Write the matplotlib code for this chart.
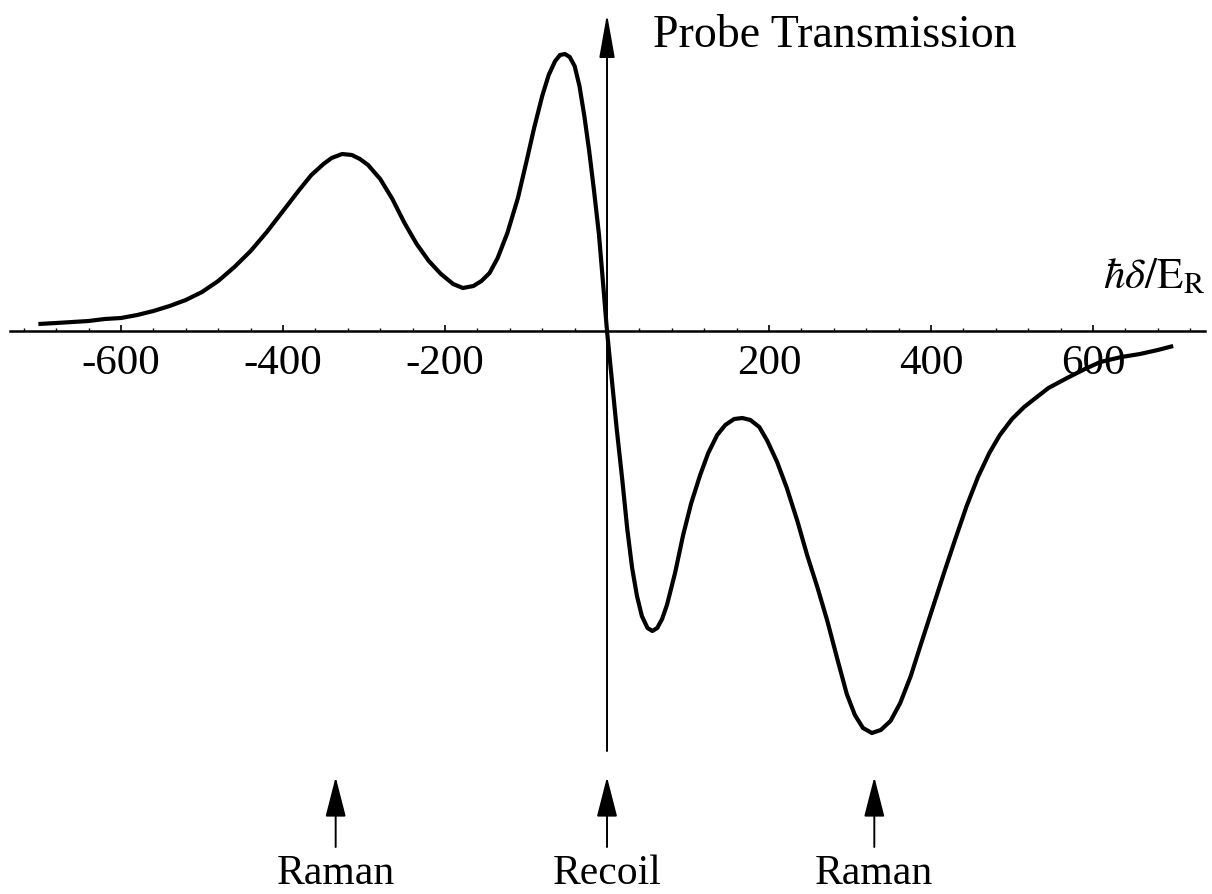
import matplotlib

matplotlib.use("Agg")
import matplotlib.pyplot as plt

# probe transmission vs. detuning (in units of the recoil energy), arbitrary y units
detuning = [
    -702, -680, -660, -640, -620, -600, -580, -560, -540, -520, -500, -480,
    -460, -440, -420, -400, -380, -365, -350, -340, -327, -315, -305, -295,
    -280, -265, -250, -235, -220, -205, -190, -178, -165, -155, -145, -135,
    -123, -110, -99, -90, -80, -72, -64, -58, -52, -46, -40, -34, -28, -22,
    -16, -10, -5, 0, 6, 12, 19, 25, 31, 37, 43, 50, 56, 62, 68, 74, 84, 94,
    104, 115, 125, 136, 146, 157, 167, 177, 188, 198, 210, 222, 235, 247,
    260, 272, 284, 296, 306, 316, 327, 338, 350, 362, 375, 388, 402, 416,
    430, 444, 458, 472, 485, 500, 515, 526, 545, 568, 590, 609, 635, 658,
    680, 699,
]
transmission = [
    0.07, 0.08, 0.09, 0.10, 0.12, 0.13, 0.16, 0.20, 0.25, 0.31, 0.39, 0.50,
    0.64, 0.80, 0.99, 1.20, 1.41, 1.56, 1.67, 1.73, 1.77, 1.76, 1.72, 1.66,
    1.52, 1.32, 1.08, 0.87, 0.70, 0.57, 0.47, 0.43, 0.45, 0.50, 0.58, 0.73,
    0.98, 1.33, 1.71, 2.03, 2.35, 2.56, 2.70, 2.76, 2.77, 2.74, 2.65, 2.45,
    2.15, 1.80, 1.40, 0.97, 0.49, 0.0, -0.49, -0.98, -1.50, -1.98, -2.37,
    -2.65, -2.85, -2.97, -3.00, -2.97, -2.88, -2.74, -2.42, -2.04, -1.72,
    -1.44, -1.22, -1.04, -0.94, -0.88, -0.87, -0.89, -0.96, -1.10, -1.31,
    -1.57, -1.90, -2.24, -2.57, -2.90, -3.27, -3.63, -3.84, -3.97, -4.02,
    -3.99, -3.90, -3.72, -3.45, -3.12, -2.77, -2.42, -2.08, -1.75, -1.46,
    -1.22, -1.04, -0.88, -0.76, -0.69, -0.57, -0.47, -0.38, -0.31, -0.26,
    -0.23, -0.19, -0.15,
]

major_ticks = [-600, -400, -200, 200, 400, 600]
minor_ticks = list(range(-720, 721, 40))

marker_pos = [-335, 0, 330]
marker_text = ["Raman", "Recoil", "Raman"]

plt.rcParams["font.family"] = ["Liberation Serif", "DejaVu Serif"]
plt.rcParams["mathtext.fontset"] = "stix"

fig = plt.figure(figsize=(12.12, 8.95), dpi=100)
ax = fig.add_axes([0, 0, 1, 1])
ax.set_xlim(-749.4, 746.9)
ax.set_ylim(-5.63, 3.32)

ax.plot(detuning, transmission, color="black", lw=3.0, solid_capstyle="butt",
        solid_joinstyle="round", zorder=3)

# horizontal axis through the origin, ticks pointing up
for side in ("top", "right", "left"):
    ax.spines[side].set_visible(False)
ax.spines["bottom"].set_position(("data", 0))
ax.spines["bottom"].set_bounds(-737, 738)
ax.spines["bottom"].set_linewidth(1.8)
ax.set_xticks(major_ticks)
ax.set_xticklabels([str(t) for t in major_ticks])
ax.set_xticks(minor_ticks, minor=True)
ax.tick_params(axis="x", which="major", direction="in", length=4.5, width=1.2,
               pad=9, labelsize=31)
ax.tick_params(axis="x", which="minor", direction="in", length=2.0, width=1.0)
ax.set_yticks([])

# vertical axis with arrow head
ax.annotate("", xy=(0, 3.17), xytext=(0, -4.2),
            arrowprops=dict(arrowstyle="-|>,head_length=1.35,head_width=0.24",
                            mutation_scale=20, lw=1.4, color="black",
                            shrinkA=0, shrinkB=0))
ax.text(57, 2.85, "Probe Transmission", fontsize=33, va="baseline", ha="left")
ax.text(738, 0.44, r"$\hbar\delta/\mathrm{E}_\mathrm{R}$", fontsize=31,
        va="baseline", ha="right")

# resonance markers below the plot
for xpos, label in zip(marker_pos, marker_text):
    ax.annotate("", xy=(xpos, -4.46), xytext=(xpos, -5.16),
                arrowprops=dict(arrowstyle="-|>,head_length=1.25,head_width=0.32",
                                mutation_scale=20, lw=1.4, color="black",
                                shrinkA=0, shrinkB=0))
    ax.text(xpos, -5.52, label, fontsize=30, ha="center", va="baseline")

fig.savefig("out.png", dpi=100)
